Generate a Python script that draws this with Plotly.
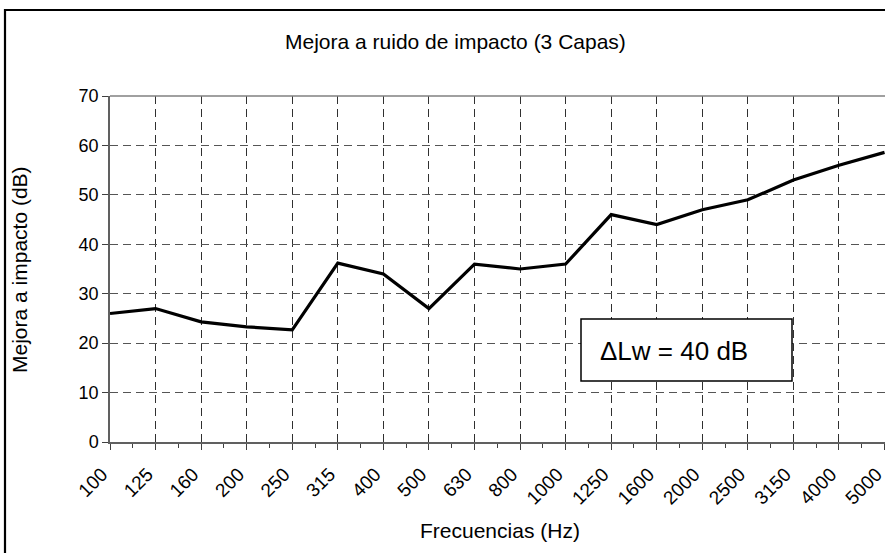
import plotly.graph_objects as go

freqs = ["100", "125", "160", "200", "250", "315", "400", "500", "630", "800",
         "1000", "1250", "1600", "2000", "2500", "3150", "4000", "5000"]
mejora = [26, 27, 24.3, 23.3, 22.7, 36.2, 34, 27, 36, 35, 36, 46, 44, 47, 49, 53, 56, 58.6]
y_ticks = [0, 10, 20, 30, 40, 50, 60, 70]

title_txt = "Mejora a ruido de impacto (3 Capas)"
ytitle_txt = "Mejora a impacto (dB)"
xtitle_txt = "Frecuencias (Hz)"
box_txt = "ΔLw = 40 dB"

FONT = "Arial, Liberation Sans, sans-serif"
W, H = 885, 553
L, T, B = 110, 96, 111
PW = W - L
PH = H - T - B

def px_x(p):
    return (p - L) / PW

def px_y(p):
    return (H - B - p) / PH

idx = list(range(len(freqs)))

fig = go.Figure()
fig.add_trace(go.Scatter(x=idx, y=mejora, mode="lines",
                         line=dict(color="black", width=3.2),
                         showlegend=False, hoverinfo="skip"))

fig.update_layout(
    width=W, height=H,
    margin=dict(l=L, r=0, t=T, b=B),
    plot_bgcolor="white", paper_bgcolor="white",
    font=dict(family=FONT, color="black", size=17),
    showlegend=False,
)

fig.update_xaxes(
    range=[0, 17.01], tickvals=idx, ticktext=freqs, tickangle=-45,
    showline=True, linecolor="#606060", linewidth=1.5, mirror=False,
    ticks="outside", ticklen=6, tickcolor="#404040", tickwidth=1,
    showgrid=True, gridcolor="#303030", gridwidth=1, griddash="8px,5px",
    zeroline=False, tickfont=dict(size=19),
    ticklabelstandoff=6, ticklabelshift=-8, ticklabeloverflow="allow",
    minor=dict(tickvals=[i + 0.5 for i in idx[:-1]], ticks="outside",
               ticklen=4, tickcolor="#404040", showgrid=False),
)
fig.update_yaxes(
    range=[0, 70], tickvals=y_ticks,
    showline=True, linecolor="#606060", linewidth=1.5,
    ticks="outside", ticklen=6, tickcolor="#404040",
    showgrid=True, gridcolor="#555555", gridwidth=1, griddash="8px,5px",
    zeroline=False, tickfont=dict(size=18),
)

# top plot border
fig.add_shape(type="line", xref="paper", yref="paper", x0=0, x1=1, y0=1, y1=1,
              line=dict(color="#808080", width=1.5))

# outer chart border (cropped on right/bottom)
fig.add_shape(type="rect", xref="paper", yref="paper",
              x0=px_x(5), x1=px_x(W + 20), y0=px_y(H + 20), y1=px_y(10),
              line=dict(color="black", width=2.2), fillcolor="rgba(0,0,0,0)")

# annotation box
fig.add_shape(type="rect", xref="paper", yref="paper",
              x0=px_x(581), x1=px_x(792), y0=px_y(381), y1=px_y(319),
              line=dict(color="black", width=1.5), fillcolor="white")
fig.add_annotation(text=box_txt, xref="paper", yref="paper",
                   x=px_x(598), y=px_y(351), xanchor="left", yanchor="middle",
                   showarrow=False, font=dict(size=26, family=FONT))

fig.add_annotation(text=title_txt, xref="paper", yref="paper",
                   x=px_x(455), y=px_y(42), xanchor="center", yanchor="middle",
                   showarrow=False, font=dict(size=21, family=FONT))
fig.add_annotation(text=ytitle_txt, xref="paper", yref="paper",
                   x=px_x(19), y=px_y(270), xanchor="center", yanchor="middle",
                   textangle=-90, showarrow=False, font=dict(size=21, family=FONT))
fig.add_annotation(text=xtitle_txt, xref="paper", yref="paper",
                   x=px_x(500), y=px_y(530), xanchor="center", yanchor="middle",
                   showarrow=False, font=dict(size=21, family=FONT))

fig.write_html("out.html", config={"displayModeBar": False},
               post_script="document.body.style.margin='0';document.body.style.overflow='hidden';")
